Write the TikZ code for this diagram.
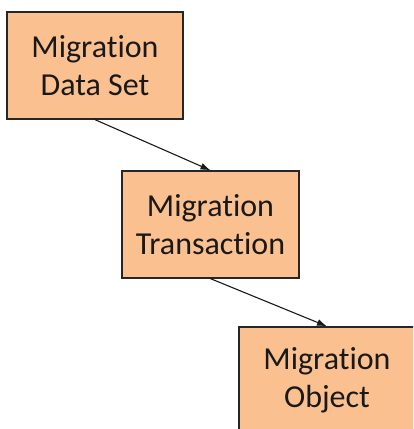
\documentclass[tikz,border=0pt]{standalone}
\usepackage{fontspec}
\setmainfont{Carlito}[Ligatures=NoCommon]
\usepackage{tikz}
\usetikzlibrary{arrows.meta, positioning}
\definecolor{migfill}{HTML}{FAC090}
\tikzset{
    migbox/.style={rectangle, fill=migfill, draw=black!85, line width=1.3pt, minimum width=176pt, minimum height=107pt, inner sep=0pt, align=center, font=\fontsize{32}{38.4}\selectfont, text=black!90},
    migarrow/.style={-{Latex[length=10pt,width=7pt]}, line width=1.1pt, draw=black!90}
}

\begin{document}
\begin{tikzpicture}[x=1pt, y=1pt]
    \useasboundingbox (0,0) rectangle (413,429);
    \begin{scope}
    \clip (0,0) rectangle (413,429);
    \node[migbox] (ds) at (95,363.5) {Migration\\Data Set};
    \node[migbox, minimum width=177pt] (tr) at (210.5,204.5) {Migration\\Transaction};
    \node[migbox] (obj) at (327,48.5) {Migration\\Object};

    % Hierarchy links
    \draw[migarrow] (ds.south) -- (tr.north);
    \draw[migarrow] (tr.south) -- (obj.north);
    \end{scope}
\end{tikzpicture}
\end{document}
